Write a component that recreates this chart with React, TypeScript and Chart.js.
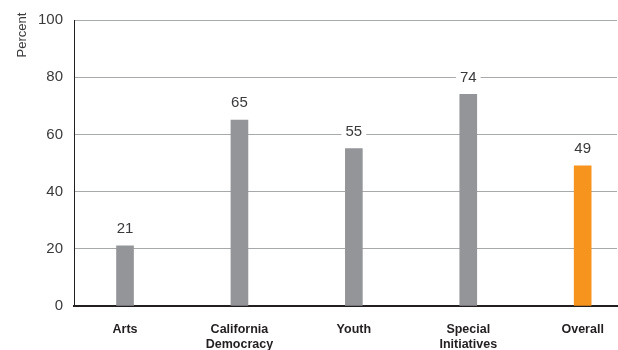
import React, { useEffect, useRef } from "react";
import { Chart, registerables } from "chart.js";

Chart.register(...registerables);

const categories: string[][] = [
  ["Arts"],
  ["California", "Democracy"],
  ["Youth"],
  ["Special", "Initiatives"],
  ["Overall"],
];
const values: number[] = [21, 65, 55, 74, 49];
const barColors: string[] = ["#939598", "#939598", "#939598", "#939598", "#f7941d"];
const yTicks: number[] = [0, 20, 40, 60, 80, 100];
const yTitle = "Percent";

const TEXT = "#3a3a3c";
const SANS = "'Liberation Sans', Arial, sans-serif";

// Value labels on a white box above each bar, plus the rotated axis title.
const annotations = {
  id: "annotations",
  afterDatasetsDraw(chart: any) {
    const ctx = chart.ctx;
    const meta = chart.getDatasetMeta(0);
    ctx.save();
    ctx.font = `15px ${SANS}`;
    ctx.textAlign = "center";
    ctx.textBaseline = "middle";
    meta.data.forEach((bar: any, i: number) => {
      const text = String(values[i]);
      const w = ctx.measureText(text).width + 8;
      const cy = bar.y - 17;
      ctx.fillStyle = "#ffffff";
      ctx.fillRect(bar.x - w / 2, cy - 8, w, 16);
      ctx.fillStyle = TEXT;
      ctx.fillText(text, bar.x, cy);
    });
    ctx.translate(22, 35);
    ctx.rotate(-Math.PI / 2);
    ctx.font = `13px ${SANS}`;
    ctx.fillStyle = TEXT;
    ctx.fillText(yTitle, 0, 0);
    ctx.restore();
  },
};

export default function App() {
  const ref = useRef<HTMLCanvasElement | null>(null);

  useEffect(() => {
    document.body.style.margin = "0";
    const canvas = ref.current;
    if (!canvas) return;
    const chart = new Chart(canvas, {
      type: "bar",
      data: {
        datasets: [
          {
            data: values.map((v, i) => ({ x: i, y: v })),
            backgroundColor: barColors,
            barThickness: 17,
          },
        ],
      },
      options: {
        responsive: false,
        animation: false,
        layout: { padding: { top: 19, right: 1, left: 0, bottom: 0 } },
        plugins: {
          legend: { display: false },
          tooltip: { enabled: false },
        },
        scales: {
          x: {
            type: "linear",
            offset: false,
            min: -0.446,
            max: 4.3,
            grid: { display: false, drawTicks: false, offset: false },
            border: { display: true, color: "#231f20", width: 2 },
            afterBuildTicks: (scale: any) => {
              scale.ticks = categories.map((_, i) => ({ value: i }));
            },
            afterFit: (scale: any) => {
              scale.height = 44;
              scale.paddingLeft = 0;
              scale.paddingRight = 0;
            },
            ticks: {
              autoSkip: false,
              maxRotation: 0,
              padding: 16,
              color: "#231f20",
              font: { family: SANS, size: 12.5, weight: "bold", lineHeight: 1.2 },
              callback: (value: any) => categories[Math.round(Number(value))] ?? "",
            },
          },
          y: {
            min: 0,
            max: 100,
            afterBuildTicks: (scale: any) => {
              scale.ticks = yTicks.map((v) => ({ value: v }));
            },
            afterFit: (scale: any) => {
              scale.width = 74;
            },
            grid: { color: "#a7a9ac", lineWidth: 1, drawTicks: false },
            border: { display: true, color: "#231f20", width: 1 },
            ticks: {
              padding: 11,
              color: TEXT,
              font: { family: SANS, size: 15 },
            },
          },
        },
      },
      plugins: [annotations],
    } as any);
    return () => chart.destroy();
  }, []);

  return (
    <div style={{ width: 618, height: 350, background: "#fff" }}>
      <canvas ref={ref} width={618} height={350} />
    </div>
  );
}
